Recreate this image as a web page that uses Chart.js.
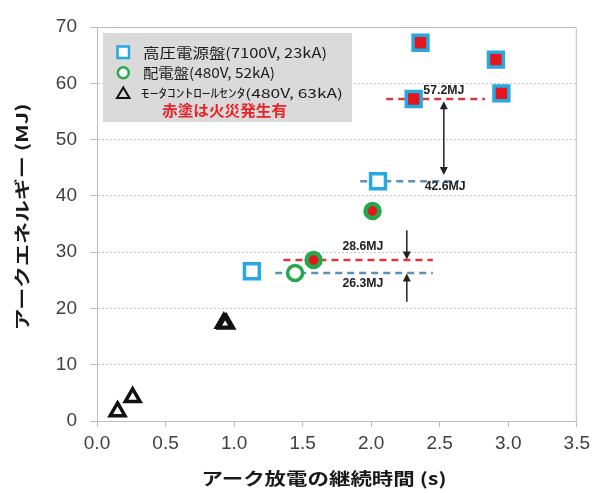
<!DOCTYPE html>
<html><head><meta charset="utf-8">
<script src="https://cdn.jsdelivr.net/npm/chart.js@4/dist/chart.umd.min.js"></script>
<style>html,body{margin:0;padding:0;background:#fff}canvas{display:block}</style>
</head><body>
<canvas id="c" width="595" height="493"></canvas>
<script>
// ---- data ----
const xTickValues = [0, 0.5, 1.0, 1.5, 2.0, 2.5, 3.0, 3.5];
const yTickValues = [0, 10, 20, 30, 40, 50, 60, 70];
const xTitle = 'アーク放電の継続時間 (s)';
const yTitle = 'アークエネルギー (MJ)';
const seriesNames = ['高圧電源盤(7100V, 23kA)', '配電盤(480V, 52kA)', 'ﾓｰﾀｺﾝﾄﾛｰﾙｾﾝﾀ(480V, 63kA)'];
const fireNote = '赤塗は火災発生有';

const hvX = [1.13, 2.05];
const hvY = [26.6, 42.6];
const hvFireX = [2.31, 2.36, 2.91, 2.95];
const hvFireY = [57.2, 67.2, 64.2, 58.2];
const swX = [1.445];
const swY = [26.3];
const swFireX = [1.58, 2.01];
const swFireY = [28.6, 37.3];
const mccX = [0.15, 0.26, 0.925, 0.942];
const mccY = [1.7, 4.2, 17.4, 17.3];

const refValues = [57.2, 42.6, 28.6, 26.3];
const refLabels = ['57.2MJ', '42.6MJ', '28.6MJ', '26.3MJ'];
const refStart = [2.11, 1.92, 1.36, 1.30];
const refEnd = [2.83, 2.64, 2.45, 2.45];
const refFire = [true, false, true, false];
const refLabelX = [2.53, 2.54, 1.94, 1.94];
const refLabelY = [58.6, 41.7, 30.9, 24.4];

const arrowX = [2.53, 2.26, 2.26];
const arrowFrom = [56.8, 33.9, 21.2];
const arrowTo = [43.7, 28.7, 26.2];
const arrowDouble = [true, false, false];

// ---- styles ----
const BLUE = '#26a8e0', GREEN = '#25a84c', RED = '#e8141c', BLACK = '#111';
const AXIS = '#bdbdbd';
const CJK = '"Noto Sans CJK JP", "Noto Sans", sans-serif';

function pts(xs, ys) { return xs.map((x, i) => ({x, y: ys[i]})); }

function fitText(ctx, text, x, y, w, align) {
  const m = ctx.measureText(text).width;
  ctx.save();
  ctx.translate(x, y);
  ctx.scale(w / m, 1);
  ctx.textAlign = align || 'left';
  ctx.fillText(text, 0, 0);
  ctx.restore();
}

function arrowHead(ctx, x, y, dir) {
  ctx.beginPath();
  ctx.moveTo(x, y);
  ctx.lineTo(x - 4, y - dir * 8);
  ctx.lineTo(x + 4, y - dir * 8);
  ctx.closePath();
  ctx.fill();
}

const annot = {
  id: 'annot',
  beforeDatasetsDraw(chart) {
    const {ctx, chartArea: a, scales: {x, y}} = chart;
    ctx.save();
    // frame
    ctx.strokeStyle = AXIS; ctx.lineWidth = 1;
    ctx.beginPath();
    ctx.moveTo(a.left, a.top + 0.5); ctx.lineTo(a.right - 0.5, a.top + 0.5); ctx.lineTo(a.right - 0.5, a.bottom);
    ctx.stroke();
    // reference dashed lines
    refValues.forEach((v, i) => {
      ctx.strokeStyle = refFire[i] ? '#e0353b' : '#5a90ba';
      ctx.lineWidth = 2.5;
      ctx.setLineDash([7, 5]);
      ctx.beginPath();
      ctx.moveTo(x.getPixelForValue(refStart[i]), y.getPixelForValue(v));
      ctx.lineTo(x.getPixelForValue(refEnd[i]), y.getPixelForValue(v));
      ctx.stroke();
    });
    ctx.setLineDash([]);
    // legend box (drawn over grid)
    ctx.fillStyle = '#dadada';
    ctx.fillRect(103, 33, 249, 89);
    ctx.restore();
  },
  afterDatasetsDraw(chart) {
    const {ctx, scales: {x, y}} = chart;
    ctx.save();
    // arrows
    ctx.strokeStyle = '#222'; ctx.fillStyle = '#222'; ctx.lineWidth = 1.5;
    arrowX.forEach((ax, i) => {
      const px = x.getPixelForValue(ax);
      const y1 = y.getPixelForValue(arrowFrom[i]);
      const y2 = y.getPixelForValue(arrowTo[i]);
      const dir = y2 > y1 ? 1 : -1;
      ctx.beginPath();
      ctx.moveTo(px, y1 + (arrowDouble[i] ? dir * 6 : 0));
      ctx.lineTo(px, y2 - dir * 6);
      ctx.stroke();
      arrowHead(ctx, px, y2, dir);
      if (arrowDouble[i]) arrowHead(ctx, px, y1, -dir);
    });
    // reference labels
    ctx.fillStyle = '#222';
    ctx.font = 'bold 12px "Liberation Sans", Arial, sans-serif';
    ctx.textBaseline = 'middle';
    refLabels.forEach((t, i) => {
      fitText(ctx, t, x.getPixelForValue(refLabelX[i]), y.getPixelForValue(refLabelY[i]), 41, 'center');
    });
    // legend markers
    ctx.lineWidth = 2.5;
    ctx.strokeStyle = BLUE; ctx.fillStyle = '#fff';
    ctx.beginPath(); ctx.rect(117.5, 46.5, 11.5, 11.5); ctx.fill(); ctx.stroke();
    ctx.strokeStyle = GREEN;
    ctx.beginPath(); ctx.arc(123.3, 72.7, 5.5, 0, Math.PI * 2); ctx.fill(); ctx.stroke();
    ctx.strokeStyle = BLACK; ctx.lineWidth = 2;
    ctx.beginPath(); ctx.moveTo(123.3, 87.5); ctx.lineTo(129.5, 98); ctx.lineTo(117, 98); ctx.closePath(); ctx.stroke();
    // legend texts
    ctx.fillStyle = '#1c1c1c';
    ctx.textBaseline = 'middle';
    ctx.font = '14px ' + CJK;
    fitText(ctx, seriesNames[0], 143, 53, 184);
    fitText(ctx, seriesNames[1], 143, 73, 132);
    ctx.font = '12.5px ' + CJK;
    fitText(ctx, seriesNames[2], 141, 93.5, 202);
    ctx.fillStyle = '#e8232a';
    ctx.font = 'bold 15px ' + CJK;
    fitText(ctx, fireNote, 162, 110, 125);
    // axis titles
    ctx.fillStyle = '#1a1a1a';
    ctx.font = 'bold 17px ' + CJK;
    fitText(ctx, xTitle, 324, 479, 245, 'center');
    ctx.save();
    ctx.translate(22, 217);
    ctx.rotate(-Math.PI / 2);
    ctx.font = 'bold 16px ' + CJK;
    fitText(ctx, yTitle, 0, 0, 227, 'center');
    ctx.restore();
    ctx.restore();
  }
};

new Chart(document.getElementById('c'), {
  type: 'scatter',
  data: {
    datasets: [
      {label: seriesNames[2], data: pts(mccX, mccY), pointStyle: 'triangle', pointRadius: 8.5, borderWidth: 3.5, borderColor: BLACK, backgroundColor: 'rgba(255,255,255,0)'},
      {label: seriesNames[1], data: pts(swX, swY), pointStyle: 'circle', pointRadius: 7.5, borderWidth: 3.5, borderColor: GREEN, backgroundColor: '#fff'},
      {label: seriesNames[1] + ' fire', data: pts(swFireX, swFireY), pointStyle: 'circle', pointRadius: 7, borderWidth: 4.5, borderColor: GREEN, backgroundColor: RED},
      {label: seriesNames[0], data: pts(hvX, hvY), pointStyle: 'rect', pointRadius: 10.5, borderWidth: 3.5, borderColor: BLUE, backgroundColor: '#fff'},
      {label: seriesNames[0] + ' fire', data: pts(hvFireX, hvFireY), pointStyle: 'rect', pointRadius: 10.5, borderWidth: 3.5, borderColor: BLUE, backgroundColor: RED}
    ]
  },
  options: {
    responsive: false,
    animation: false,
    devicePixelRatio: 1,
    layout: {padding: {left: 0, right: 14, top: 27, bottom: 0}},
    plugins: {legend: {display: false}, tooltip: {enabled: false}},
    scales: {
      x: {
        type: 'linear', min: 0, max: 3.5,
        afterBuildTicks: s => { s.ticks = xTickValues.map(v => ({value: v})); },
        afterFit: s => { s.height = 72; },
        ticks: {callback: v => v.toFixed(1), color: '#404040', padding: 5,
          font: {family: '"Liberation Sans", Arial, sans-serif', size: 19}},
        grid: {drawOnChartArea: false, drawTicks: true, tickLength: 6, color: AXIS},
        border: {color: AXIS, width: 1}
      },
      y: {
        type: 'linear', min: 0, max: 70,
        afterBuildTicks: s => { s.ticks = yTickValues.map(v => ({value: v})); },
        afterFit: s => { s.width = 97; },
        ticks: {color: '#404040', padding: 13,
          font: {family: '"Liberation Sans", Arial, sans-serif', size: 19}},
        grid: {color: '#c4c4c4', lineWidth: 1, tickLength: 7, tickColor: AXIS, tickBorderDash: []},
        border: {color: AXIS, width: 1, dash: [2, 2]}
      }
    }
  },
  plugins: [annot]
});
</script>
</body></html>
